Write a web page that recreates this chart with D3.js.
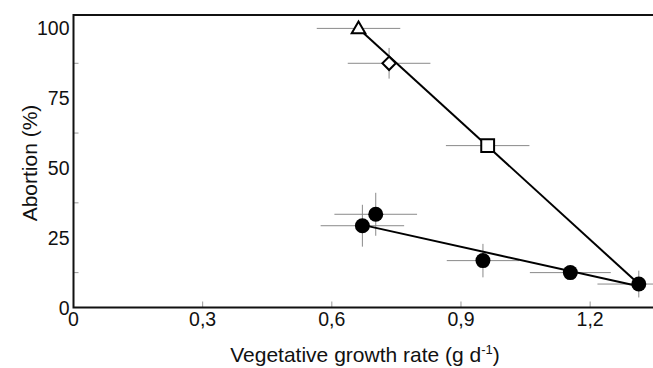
<!DOCTYPE html>
<html>
<head>
<meta charset="utf-8">
<script src="https://cdn.jsdelivr.net/npm/d3@7"></script>
<style>
    body { margin: 0; background: #fff; }
    text { font-family: "Liberation Sans", Arial, sans-serif; fill: #111; }
</style>
</head>
<body>
<div id="chart"></div>
<script>
// open symbols (upper line)
const openShapes = ["triangle", "diamond", "square"];
const openX = [0.662, 0.733, 0.962];
const openY = [100, 87.5, 58.0];
const openXerr = [0.097, 0.096, 0.097];
const openYerr = [0, 5.5, 0];

// filled circles (lower line)
const filledX = [0.671, 0.702, 0.951, 1.154, 1.313];
const filledY = [29.3, 33.4, 16.8, 12.5, 8.4];
const filledXerr = [0.097, 0.096, 0.084, 0.094, 0.096];
const filledYerr = [7.5, 7.7, 6.0, 1.5, 4.8];

// fitted lines, end points
const upperLineX = [0.662, 1.313];
const upperLineY = [100, 8.4];
const lowerLineX = [0.671, 1.313];
const lowerLineY = [29.6, 7.6];

const xTicks = [0, 0.3, 0.6, 0.9, 1.2];
const yTicks = [0, 25, 50, 75, 100];
const yMinorTicks = [12.5, 37.5, 62.5, 87.5];

ScatterChart = function(_parentElement) {
    this.parentElement = _parentElement;
    this.initVis();
}

ScatterChart.prototype.initVis = function() {
    let vis = this;

    vis.width = 653;
    vis.height = 368;
    vis.margin = { left: 73.5, top: 15, right: 0, bottom: 60.5 };

    vis.svg = d3.select("#" + vis.parentElement)
        .append("svg")
        .attr("width", vis.width)
        .attr("height", vis.height)
        .style("overflow", "hidden");

    vis.x = d3.scaleLinear()
        .domain([0, 1.346])
        .range([vis.margin.left, vis.width - vis.margin.right]);

    vis.y = d3.scaleLinear()
        .domain([0, 104.8])
        .range([vis.height - vis.margin.bottom, vis.margin.top]);

    vis.updateVis();
}

ScatterChart.prototype.updateVis = function() {
    let vis = this;
    let x = vis.x, y = vis.y;
    let bottom = y(0), left = x(0);

    // inner ticks
    vis.svg.selectAll(".xtick")
        .data(xTicks.slice(1))
        .enter()
        .append("line")
        .attr("x1", d => x(d)).attr("x2", d => x(d))
        .attr("y1", bottom).attr("y2", bottom - 6)
        .attr("stroke", "#999").attr("stroke-width", 1);

    vis.svg.selectAll(".ytick")
        .data(yMinorTicks)
        .enter()
        .append("line")
        .attr("x1", left).attr("x2", left + 5)
        .attr("y1", d => y(d)).attr("y2", d => y(d))
        .attr("stroke", "#999").attr("stroke-width", 1);

    // frame: left, bottom, top
    vis.svg.append("path")
        .attr("d", "M" + vis.width + "," + y.range()[1] + "H" + left + "V" + bottom + "H" + vis.width)
        .attr("fill", "none")
        .attr("stroke", "#111")
        .attr("stroke-width", 2);

    // tick labels
    vis.svg.selectAll(".xlabel")
        .data(xTicks)
        .enter()
        .append("text")
        .attr("x", d => x(d))
        .attr("y", bottom + 18)
        .attr("text-anchor", "middle")
        .style("font-size", "19.5px")
        .text(d => d === 0 ? "0" : d.toFixed(1).replace(".", ","));

    vis.svg.selectAll(".ylabel")
        .data(yTicks)
        .enter()
        .append("text")
        .attr("x", left - 4)
        .attr("y", d => y(d) + 7)
        .attr("text-anchor", "end")
        .style("font-size", "19.5px")
        .text(d => d);

    // axis titles
    vis.svg.append("text")
        .attr("transform", "translate(37,163) rotate(-90)")
        .attr("text-anchor", "middle")
        .style("font-size", "21px")
        .text("Abortion (%)");

    let xt = vis.svg.append("text")
        .attr("x", 365)
        .attr("y", 362)
        .attr("text-anchor", "middle")
        .style("font-size", "21px");
    xt.append("tspan").text("Vegetative growth rate (g d");
    xt.append("tspan").attr("dy", -8).style("font-size", "13px").text("-1");
    xt.append("tspan").attr("dy", 8).text(")");

    // error bars
    let bars = [];
    openX.forEach((d, i) => bars.push({ x: d, y: openY[i], ex: openXerr[i], ey: openYerr[i] }));
    filledX.forEach((d, i) => bars.push({ x: d, y: filledY[i], ex: filledXerr[i], ey: filledYerr[i] }));

    let eb = vis.svg.append("g").attr("stroke", "#8a8a8a").attr("stroke-width", 1);
    eb.selectAll(".hbar")
        .data(bars)
        .enter()
        .append("line")
        .attr("x1", d => x(d.x - d.ex)).attr("x2", d => x(d.x + d.ex))
        .attr("y1", d => y(d.y)).attr("y2", d => y(d.y));
    eb.selectAll(".vbar")
        .data(bars.filter(d => d.ey > 0))
        .enter()
        .append("line")
        .attr("x1", d => x(d.x)).attr("x2", d => x(d.x))
        .attr("y1", d => y(d.y - d.ey)).attr("y2", d => y(d.y + d.ey));

    // fitted lines
    let line = d3.line().x(d => x(d[0])).y(d => y(d[1]));
    vis.svg.append("path")
        .attr("d", line(d3.zip(upperLineX, upperLineY)))
        .attr("stroke", "#000").attr("stroke-width", 2).attr("fill", "none");
    vis.svg.append("path")
        .attr("d", line(d3.zip(lowerLineX, lowerLineY)))
        .attr("stroke", "#000").attr("stroke-width", 2).attr("fill", "none");

    // open symbols (diamond = rotated square)
    let symbolTypes = { triangle: d3.symbolTriangle, diamond: d3.symbolSquare, square: d3.symbolSquare };
    let symbolSizes = { triangle: 80, diamond: 90, square: 165 };
    vis.svg.selectAll(".open")
        .data(openX.map((d, i) => ({ x: d, y: openY[i], s: openShapes[i] })))
        .enter()
        .append("path")
        .attr("transform", d => "translate(" + x(d.x) + "," + (y(d.y) + (d.s === "triangle" ? 1 : 0)) + ")"
            + (d.s === "diamond" ? " rotate(45)" : ""))
        .attr("d", d => d3.symbol().type(symbolTypes[d.s]).size(symbolSizes[d.s])())
        .attr("fill", "#fff")
        .attr("stroke", "#000")
        .attr("stroke-width", 2);

    // filled circles
    vis.svg.selectAll(".filled")
        .data(filledX.map((d, i) => ({ x: d, y: filledY[i] })))
        .enter()
        .append("circle")
        .attr("cx", d => x(d.x))
        .attr("cy", d => y(d.y))
        .attr("r", 7.5)
        .attr("fill", "#000");
}

new ScatterChart("chart");
</script>
</body>
</html>
